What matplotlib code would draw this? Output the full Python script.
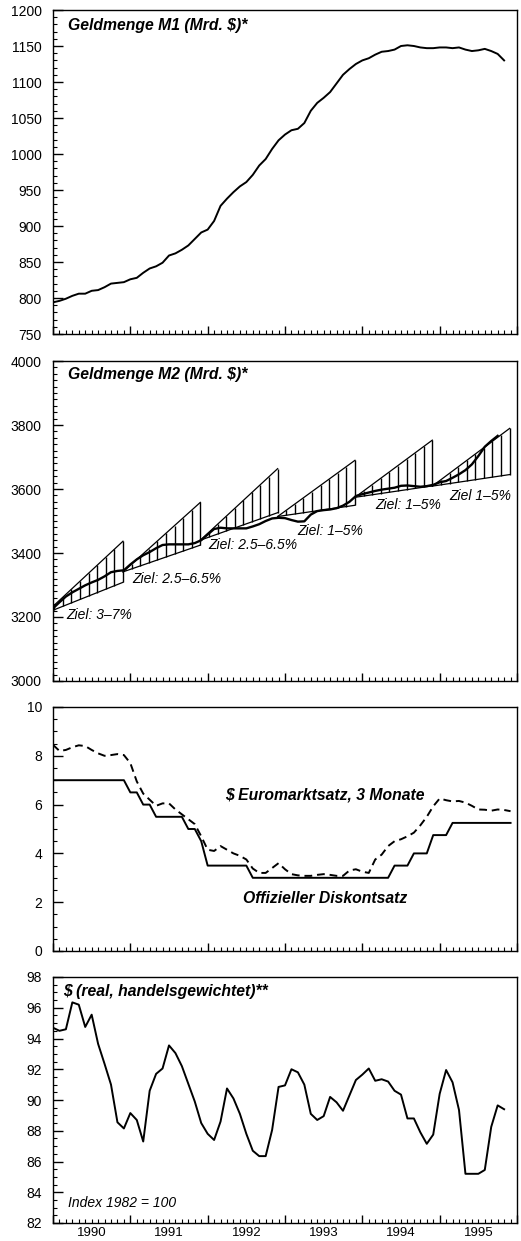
import numpy as np
import matplotlib
matplotlib.use("Agg")
import matplotlib.pyplot as plt
from matplotlib.ticker import MultipleLocator, NullFormatter

plt.rcParams['font.family'] = ['Liberation Sans', 'DejaVu Sans']

# ---------------------------------------------------------------- data
start_year = 1990
year_labels = ["1990", "1991", "1992", "1993", "1994", "1995"]

# Geldmenge M1, Mrd. $ (monthly from Jan 1990)
m1 = [794, 796, 799, 803, 806, 806, 810, 811, 815, 820, 821, 822,
      826, 828, 835, 841, 844, 849, 859, 862, 867, 873, 882, 891,
      895, 907, 928, 938, 947, 955, 961, 971, 984, 993, 1007, 1019,
      1027, 1033, 1035, 1043, 1060, 1071, 1078, 1086, 1098, 1110, 1118, 1125,
      1130, 1133, 1138, 1142, 1143, 1145, 1150, 1151, 1150, 1148, 1147, 1147,
      1148, 1148, 1147, 1148, 1145, 1143, 1144, 1146, 1143, 1139, 1130]

# Geldmenge M2, Mrd. $ (monthly from Jan 1990)
m2 = [3227, 3246, 3264, 3277, 3288, 3299, 3308, 3316, 3327, 3340, 3344, 3346,
      3364, 3380, 3393, 3403, 3415, 3425, 3427, 3427, 3427, 3427, 3431, 3440,
      3458, 3475, 3479, 3477, 3477, 3477, 3477, 3483, 3490, 3500, 3508, 3510,
      3509, 3503, 3498, 3499, 3520, 3531, 3534, 3536, 3540, 3548, 3560, 3578,
      3584, 3589, 3594, 3598, 3601, 3604, 3610, 3611, 3609, 3607, 3609, 3613,
      3621, 3625, 3635, 3646, 3659, 3677, 3703, 3732, 3750, 3766]

# M2 target corridors: base value (Q4 of previous year) and growth range in %
target_years = [1990, 1991, 1992, 1993, 1994, 1995]
target_base = [3212, 3341, 3440, 3514, 3574, 3609]
target_low = [3.0, 2.5, 2.5, 1.0, 1.0, 1.0]
target_high = [7.0, 6.5, 6.5, 5.0, 5.0, 5.0]
target_labels = ["Ziel: 3–7%", "Ziel: 2.5–6.5%", "Ziel: 2.5–6.5%",
                 "Ziel: 1–5%", "Ziel: 1–5%", "Ziel 1–5%"]

# Offizieller Diskontsatz, % (month-end values from Dec 1989)
discount = [7.0, 7.0, 7.0, 7.0, 7.0, 7.0, 7.0, 7.0, 7.0, 7.0, 7.0, 7.0,
            6.5, 6.5, 6.0, 6.0, 5.5, 5.5, 5.5, 5.5, 5.5, 5.0, 5.0, 4.5,
            3.5, 3.5, 3.5, 3.5, 3.5, 3.5, 3.5, 3.0, 3.0, 3.0, 3.0, 3.0,
            3.0, 3.0, 3.0, 3.0, 3.0, 3.0, 3.0, 3.0, 3.0, 3.0, 3.0, 3.0,
            3.0, 3.0, 3.0, 3.0, 3.0, 3.5, 3.5, 3.5, 4.0, 4.0, 4.0, 4.75,
            4.75, 4.75, 5.25, 5.25, 5.25, 5.25, 5.25, 5.25, 5.25, 5.25, 5.25, 5.25]

# $ Euromarktsatz, 3 Monate, %
euro3m = [8.45, 8.20, 8.24, 8.35, 8.43, 8.40, 8.24, 8.10, 8.00, 8.03, 8.07, 8.03,
          7.70, 6.95, 6.45, 6.20, 5.95, 6.05, 6.05, 5.80, 5.60, 5.40, 5.20, 4.70,
          4.15, 4.10, 4.30, 4.15, 4.00, 3.90, 3.75, 3.38, 3.20, 3.20, 3.40, 3.60,
          3.35, 3.15, 3.10, 3.08, 3.08, 3.12, 3.15, 3.12, 3.08, 3.08, 3.30, 3.35,
          3.25, 3.20, 3.75, 3.95, 4.30, 4.50, 4.58, 4.70, 4.85, 5.15, 5.50, 5.93,
          6.25, 6.18, 6.13, 6.15, 6.08, 5.95, 5.80, 5.79, 5.75, 5.80, 5.78, 5.73]

# $ real, handelsgewichtet (Index 1982 = 100)
dollar_real = [94.70, 94.50, 94.60, 96.35, 96.20, 94.75, 95.55, 93.65, 92.35, 91.00, 88.55, 88.15,
               89.15, 88.70, 87.30, 90.60, 91.70, 92.05, 93.55, 93.05, 92.20, 91.05, 89.90, 88.50,
               87.80, 87.40, 88.60, 90.75, 90.10, 89.10, 87.80, 86.70, 86.35, 86.35, 88.05, 90.85,
               90.95, 92.00, 91.80, 91.00, 89.10, 88.70, 88.95, 90.20, 89.85, 89.30, 90.30, 91.30,
               91.65, 92.05, 91.25, 91.35, 91.20, 90.60, 90.35, 88.80, 88.80, 87.90, 87.15, 87.75,
               90.40, 91.95, 91.15, 89.35, 85.20, 85.20, 85.20, 85.45, 88.25, 89.65, 89.40]


def monthly_x(values):
    return start_year + np.arange(len(values)) / 12.0


# ---------------------------------------------------------------- figure
W, H = 521, 1241
fig = plt.figure(figsize=(W / 100, H / 100), dpi=100)


def panel(top_px, bottom_px):
    left, right = 53, 517
    return fig.add_axes([left / W, 1 - bottom_px / H,
                         (right - left) / W, (bottom_px - top_px) / H])


def style_axes(ax, ymin, ymax, ymajor, yminor, show_years=False):
    ax.set_xlim(1990, 1996)
    ax.set_ylim(ymin, ymax)
    ax.xaxis.set_major_locator(MultipleLocator(1))
    ax.xaxis.set_minor_locator(MultipleLocator(1 / 12))
    ax.xaxis.set_major_formatter(NullFormatter())
    ax.yaxis.set_major_locator(MultipleLocator(ymajor))
    ax.yaxis.set_minor_locator(MultipleLocator(yminor))
    ax.tick_params(axis='x', which='major', direction='in', length=6,
                   width=1.0, top=False)
    ax.tick_params(axis='x', which='minor', direction='in', length=3,
                   width=0.8, top=False)
    ax.tick_params(axis='y', which='major', direction='in', length=7,
                   width=1.0, right=False, labelsize=10, pad=8)
    ax.tick_params(axis='y', which='minor', direction='in', length=3,
                   width=0.8, right=False)
    for s in ax.spines.values():
        s.set_linewidth(1.0)
    if show_years:
        sec = ax.secondary_xaxis('bottom')
        sec.set_xticks([int(y) + 0.5 for y in year_labels], year_labels)
        sec.tick_params(length=0, labelsize=9.5, pad=3)
        sec.spines['bottom'].set_visible(False)


head_kw = dict(fontsize=11.3, fontweight='bold', fontstyle='italic')

# --- Panel 1: M1
ax1 = panel(10, 334)
ax1.plot(monthly_x(m1), m1, color='black', lw=1.4)
style_axes(ax1, 750, 1200, 50, 10)
ax1.text(0.033, 0.953, "Geldmenge M1 (Mrd. $)*", transform=ax1.transAxes,
         ha='left', va='center', **head_kw)

# --- Panel 2: M2 with target corridors
ax2 = panel(361, 681)
label_pos = [(1990.17, 3206), (1991.03, 3319), (1992.01, 3425),
             (1993.16, 3469), (1994.17, 3550), (1995.12, 3578)]
for yr, base, lo, hi, lab, (lx, ly) in zip(target_years, target_base, target_low,
                                           target_high, target_labels, label_pos):
    x0 = yr - 1 + 10.86 / 12
    ax2.plot([x0, x0 + 1], [base, base * (1 + lo / 100)], color='black', lw=0.9)
    ax2.plot([x0, x0 + 1], [base, base * (1 + hi / 100)], color='black', lw=0.9)
    frac = np.arange(1, 10) / 9
    ax2.vlines(x0 + frac, base * (1 + lo / 100 * frac), base * (1 + hi / 100 * frac),
               color='black', lw=1.0)
    ax2.text(lx, ly, lab, fontsize=10, fontstyle='italic', ha='left', va='center')
ax2.plot(monthly_x(m2), m2, color='black', lw=1.7)
style_axes(ax2, 3000, 4000, 200, 20)
ax2.text(0.033, 0.957, "Geldmenge M2 (Mrd. $)*", transform=ax2.transAxes,
         ha='left', va='center', **head_kw)

# --- Panel 3: interest rates
ax3 = panel(707, 951)
ax3.plot(monthly_x(discount), discount, color='black', lw=1.4)
ax3.plot(monthly_x(euro3m), euro3m, color='black', lw=1.4, dashes=(4, 2.5))
style_axes(ax3, 0, 10, 2, 0.5)
ax3.text(1993.52, 6.39, "$ Euromarktsatz, 3 Monate", ha='center', va='center',
         **head_kw)
ax3.text(1993.52, 2.17, "Offizieller Diskontsatz", ha='center', va='center',
         **head_kw)

# --- Panel 4: real trade-weighted dollar
ax4 = panel(977, 1223)
ax4.plot(monthly_x(dollar_real), dollar_real, color='black', lw=1.4)
style_axes(ax4, 82, 98, 2, 0.5, show_years=True)
ax4.text(0.021, 0.94, "$ (real, handelsgewichtet)**", transform=ax4.transAxes,
         ha='left', va='center', **head_kw)
ax4.text(0.032, 0.08, "Index 1982 = 100", transform=ax4.transAxes,
         fontsize=10, fontstyle='italic', ha='left', va='center')

fig.savefig("out.png", dpi=100)
